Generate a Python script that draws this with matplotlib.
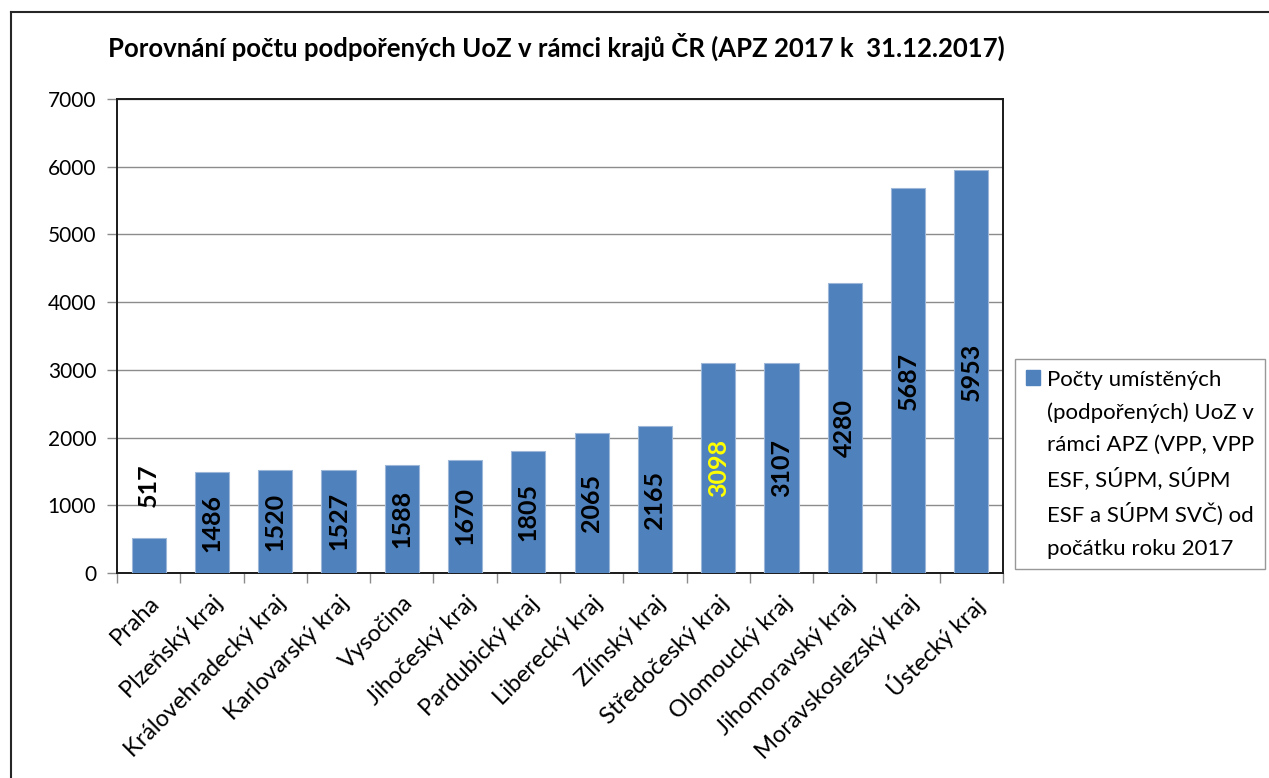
import matplotlib
matplotlib.use("Agg")
import matplotlib.pyplot as plt
from matplotlib.patches import Patch
from matplotlib.lines import Line2D
import numpy as np

categories = ["Praha", "Plzeňský kraj", "Královehradecký kraj", "Karlovarský kraj",
              "Vysočina", "Jihočeský kraj", "Pardubický kraj", "Liberecký kraj",
              "Zlínský kraj", "Středočeský kraj", "Olomoucký kraj",
              "Jihomoravský kraj", "Moravskoslezský kraj", "Ústecký kraj"]
values = [517, 1486, 1520, 1527, 1588, 1670, 1805, 2065, 2165, 3098, 3107, 4280, 5687, 5953]
yticks = [0, 1000, 2000, 3000, 4000, 5000, 6000, 7000]
title = "Porovnání počtu podpořených UoZ v rámci krajů ČR (APZ 2017 k  31.12.2017)"
legend_lines = ["Počty umístěných", "(podpořených) UoZ v", "rámci APZ (VPP, VPP",
                "ESF, SÚPM, SÚPM", "ESF a SÚPM SVČ) od", "počátku roku 2017"]
highlight = "Středočeský kraj"

FONT = ["Lato", "DejaVu Sans"]
plt.rcParams['font.family'] = FONT

W, H = 1269, 778
fig = plt.figure(figsize=(W / 100, H / 100), dpi=100)
fig.patch.set_facecolor("white")

ax = fig.add_axes([117 / W, 1 - 573 / H, (1003 - 117) / W, (573 - 99) / H])

BLUE = "#4F81BD"
x = np.arange(len(categories))
bars = ax.bar(x, values, width=0.54, color=BLUE, edgecolor="#9DB7D8", linewidth=0.8, zorder=3)

ax.set_xlim(-0.5, len(categories) - 0.5)
ax.set_ylim(0, 7000)
ax.set_yticks(yticks)
ax.set_yticklabels([str(v) for v in yticks], fontsize=15)
ax.yaxis.grid(True, color="#8C8C8C", linewidth=1.0, zorder=0)
ax.set_axisbelow(True)

ax.set_xticks(x)
ax.set_xticklabels(categories, rotation=45, ha="right", rotation_mode="anchor", fontsize=17)
ax.set_xticks(np.arange(-0.5, len(categories), 1.0), minor=True)
ax.tick_params(axis="x", which="major", length=0, pad=14)
ax.tick_params(axis="x", which="minor", length=7, color="#8C8C8C", width=1)
ax.tick_params(axis="y", length=7, color="#8C8C8C", width=1, pad=8)

for s in ax.spines.values():
    s.set_color("#1a1a1a")
    s.set_linewidth(1.4)

for xi, v, c in zip(x, values, categories):
    col = "yellow" if c == highlight else "black"
    if v < 1000:
        ax.annotate(str(v), (xi, v), xytext=(0, 22), textcoords="offset points",
                    rotation=90, ha="center", va="bottom", fontsize=18,
                    fontweight="bold", color=col, zorder=4)
    else:
        ax.text(xi, v / 2, str(v), rotation=90, ha="center", va="center",
                fontsize=18, fontweight="bold", color=col, zorder=4)

fig.text(556 / W, 1 - 47 / H, title, ha="center", va="center", fontsize=18.5, fontweight="bold")

handles = [Patch(facecolor=BLUE, edgecolor=BLUE)] + [Patch(alpha=0) for _ in legend_lines[1:]]
leg = fig.legend(handles, legend_lines, loc="upper left",
                 bbox_to_anchor=(1015 / W, 1 - 359 / H), fontsize=16,
                 frameon=True, fancybox=False, edgecolor="#7F7F7F",
                 handlelength=0.65, handleheight=0.65, handletextpad=0.3,
                 labelspacing=0.56, borderpad=0.48, borderaxespad=0)
leg.get_frame().set_linewidth(1.0)

# outer chart border (top and left visible)
fig.add_artist(Line2D([10.5 / W, 10.5 / W], [1 - 12 / H, 0], transform=fig.transFigure,
                      color="#262626", linewidth=1.5))
fig.add_artist(Line2D([10.5 / W, 1], [1 - 12 / H, 1 - 12 / H], transform=fig.transFigure,
                      color="#262626", linewidth=1.5))

fig.savefig("out.png", dpi=100)
